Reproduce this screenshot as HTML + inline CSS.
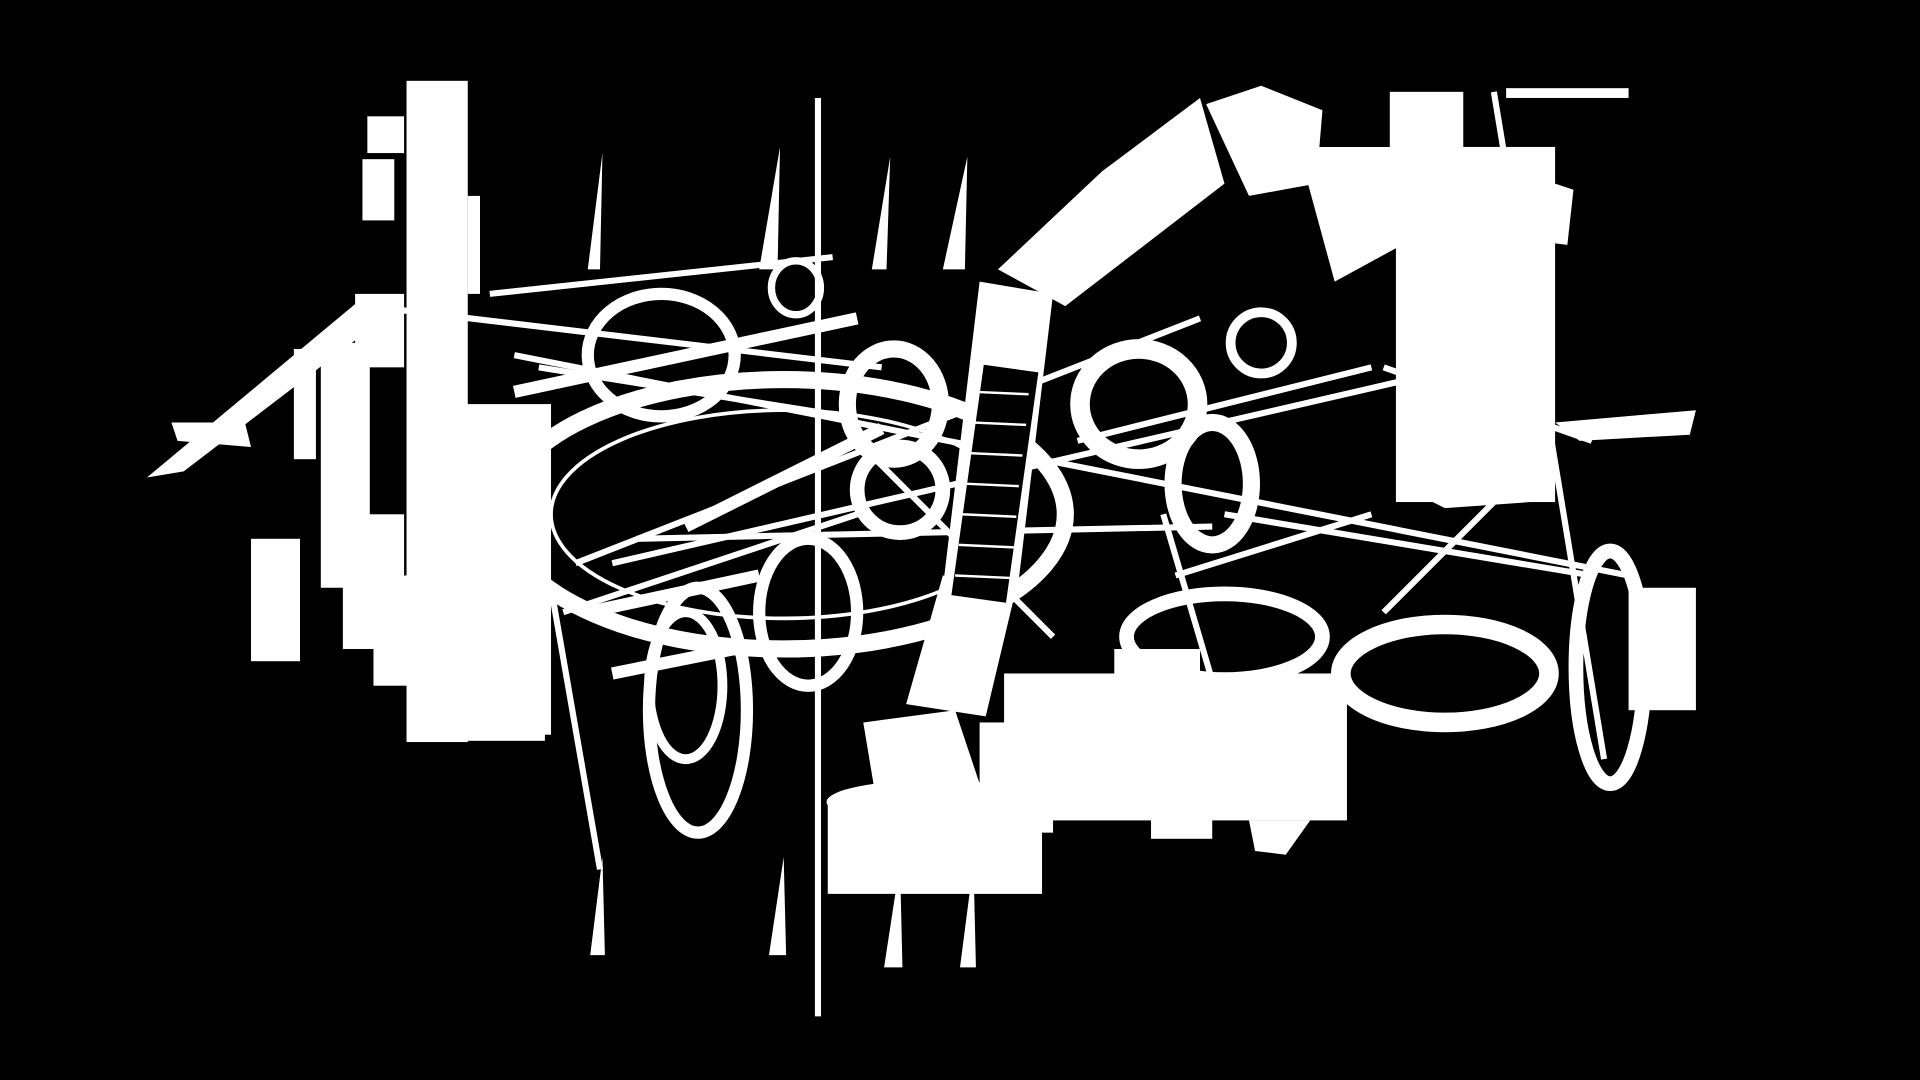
<!DOCTYPE html>
<html><head><meta charset="utf-8"><style>
html,body{margin:0;padding:0;background:#000;width:1920px;height:1080px;overflow:hidden}
svg{display:block}
</style></head><body>
<svg width="1920" height="1080" viewBox="0 0 1568 882" xmlns="http://www.w3.org/2000/svg">
<rect width="1568" height="882" fill="#000"/>
<g fill="#fff" stroke="none">
<!-- left tall column -->
<rect x="332" y="66" width="50" height="540"/>
<rect x="300" y="95" width="30" height="30"/>
<rect x="296" y="130" width="26" height="50"/>
<rect x="382" y="160" width="10" height="80"/>
<rect x="360" y="330" width="90" height="270"/>
<rect x="345" y="560" width="100" height="45"/>
<rect x="290" y="240" width="40" height="60"/>
<rect x="262" y="280" width="40" height="200"/>
<rect x="240" y="285" width="18" height="90"/>
<rect x="205" y="440" width="40" height="100"/>
<rect x="280" y="420" width="50" height="110"/>
<rect x="305" y="470" width="30" height="90"/>
<polygon points="120,390 300,240 320,255 150,385"/>
<polygon points="140,345 200,345 205,365 145,360"/>
<!-- right tall block -->
<rect x="1140" y="120" width="130" height="290"/>
<rect x="1135" y="75" width="60" height="70"/>
<rect x="1230" y="72" width="100" height="8"/>
<polygon points="1240,140 1285,155 1280,200 1240,195"/>
<polygon points="1150,400 1210,380 1250,410 1180,415"/>
<!-- bottom block -->
<rect x="820" y="550" width="280" height="120"/>
<rect x="800" y="590" width="60" height="90"/>
<rect x="940" y="650" width="50" height="35"/>
<rect x="910" y="530" width="70" height="40"/>
<!-- cylinder -->
<rect x="676" y="655" width="175" height="75"/>
<ellipse cx="763" cy="655" rx="88" ry="18"/>
<polygon points="705,590 780,580 800,640 715,650"/>
<!-- robotic arm -->
<polygon points="740,575 805,585 830,480 770,470"/>
<polygon points="770,480 830,490 860,240 800,230"/>
<polygon points="815,220 870,250 1000,150 980,80 900,140"/>
<polygon points="985,85 1030,70 1080,90 1075,150 1020,160"/>
<polygon points="1060,120 1140,120 1145,200 1090,230"/>
<!-- right wing -->
<polygon points="1270,345 1385,335 1380,355 1290,360"/>
<rect x="1330" y="480" width="55" height="100"/>
<polygon points="1020,670 1070,670 1050,698 1025,695"/>
</g>
<!-- central structure outlines -->
<g fill="none" stroke="#fff">
<ellipse cx="640" cy="420" rx="230" ry="110" stroke-width="14"/>
<ellipse cx="640" cy="420" rx="190" ry="85" stroke-width="3"/>
<ellipse cx="540" cy="290" rx="60" ry="50" stroke-width="10"/>
<ellipse cx="730" cy="330" rx="38" ry="45" stroke-width="14"/>
<ellipse cx="930" cy="330" rx="48" ry="45" stroke-width="16"/>
<ellipse cx="990" cy="395" rx="32" ry="50" stroke-width="14"/>
<ellipse cx="735" cy="400" rx="35" ry="35" stroke-width="12"/>
<ellipse cx="1180" cy="550" rx="85" ry="40" stroke-width="16"/>
<ellipse cx="1000" cy="520" rx="80" ry="35" stroke-width="12"/>
<ellipse cx="1315" cy="545" rx="28" ry="95" stroke-width="12"/>
<ellipse cx="570" cy="580" rx="40" ry="100" stroke-width="10"/>
<ellipse cx="660" cy="500" rx="40" ry="60" stroke-width="10"/>
<ellipse cx="560" cy="560" rx="30" ry="60" stroke-width="8"/>
<ellipse cx="1030" cy="280" rx="25" ry="25" stroke-width="8"/>
<ellipse cx="650" cy="235" rx="20" ry="22" stroke-width="6"/>
<g stroke-width="5">
<line x1="300" y1="250" x2="720" y2="300"/><line x1="400" y1="240" x2="680" y2="210"/>
<line x1="470" y1="460" x2="980" y2="260"/><line x1="420" y1="290" x2="1330" y2="470"/>
<line x1="500" y1="460" x2="1150" y2="310"/><line x1="880" y1="360" x2="1120" y2="300"/>
<line x1="460" y1="500" x2="700" y2="420"/><line x1="1000" y1="420" x2="1300" y2="470"/>
<line x1="960" y1="470" x2="1120" y2="420"/><line x1="1130" y1="500" x2="1230" y2="400"/>
<line x1="1130" y1="300" x2="1300" y2="360"/><line x1="440" y1="300" x2="690" y2="340"/>
<line x1="668" y1="80" x2="668" y2="830"/><line x1="1220" y1="75" x2="1310" y2="620"/>
<line x1="450" y1="480" x2="490" y2="710"/><line x1="950" y1="420" x2="1000" y2="590"/>
<line x1="520" y1="440" x2="990" y2="430"/><line x1="700" y1="360" x2="860" y2="520"/>
</g>
<g stroke-width="10">
<line x1="480" y1="500" x2="620" y2="470"/><line x1="500" y1="550" x2="600" y2="530"/>
<line x1="420" y1="320" x2="700" y2="260"/><line x1="560" y1="430" x2="720" y2="350"/>
</g>
</g>
<!-- dark screw in arm -->
<rect x="790" y="300" width="45" height="190" fill="#000" transform="rotate(8 812 395)"/>
<g stroke="#fff" stroke-width="2">
<line x1="795" y1="320" x2="840" y2="322"/><line x1="793" y1="345" x2="838" y2="347"/>
<line x1="790" y1="370" x2="835" y2="372"/><line x1="788" y1="395" x2="832" y2="397"/>
<line x1="785" y1="420" x2="830" y2="422"/><line x1="783" y1="445" x2="828" y2="447"/>
<line x1="780" y1="470" x2="825" y2="472"/>
</g>
<!-- spikes -->
<g fill="#fff">
<polygon points="480,220 492,125 490,220"/><polygon points="620,220 637,120 635,220"/>
<polygon points="712,220 727,128 724,220"/><polygon points="770,220 790,128 788,220"/>
<polygon points="482,780 492,700 494,780"/><polygon points="628,780 640,700 642,780"/>
<polygon points="722,790 735,705 737,790"/><polygon points="784,790 795,705 797,790"/>
</g>
</svg>
</body></html>
